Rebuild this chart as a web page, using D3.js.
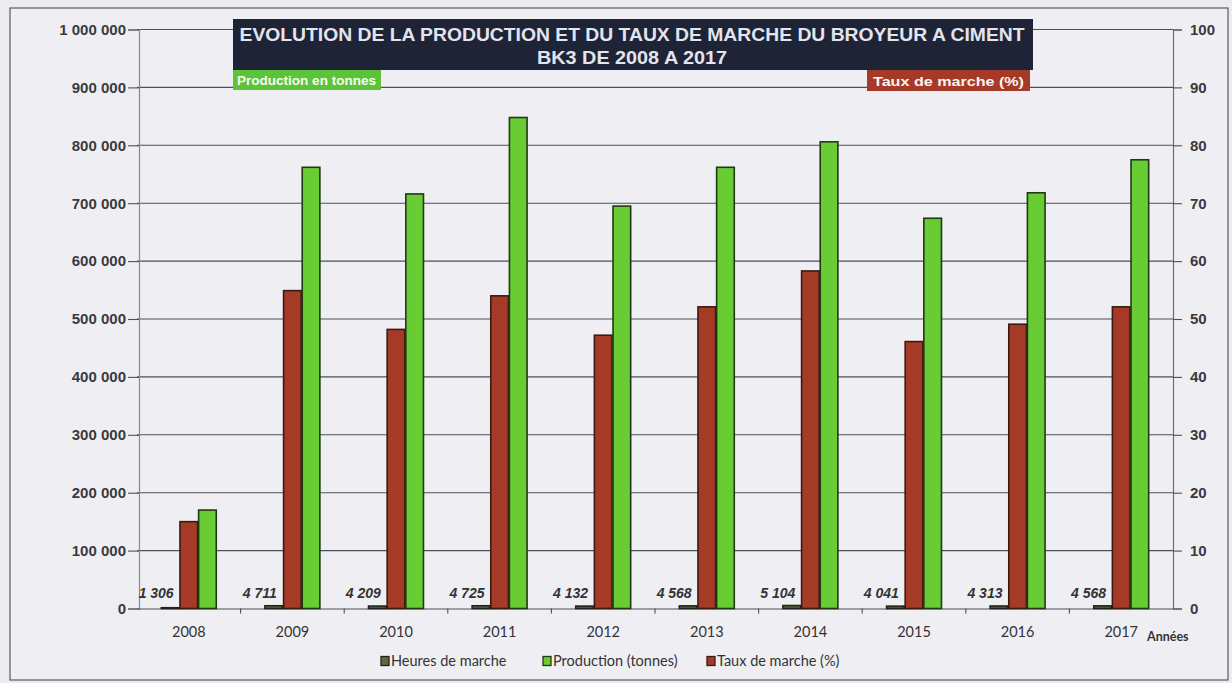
<!DOCTYPE html>
<html><head><meta charset="utf-8">
<script src="https://cdn.jsdelivr.net/npm/d3@7"></script>
<style>
html,body{margin:0;padding:0;background:#ececf0;}
svg{display:block;}
</style></head>
<body>
<svg id="chart" width="1232" height="683"></svg>
<script>
const years = ["2008","2009","2010","2011","2012","2013","2014","2015","2016","2017"];
const heures = [1306, 4711, 4209, 4725, 4132, 4568, 5104, 4041, 4313, 4568];
const production = [170000, 762000, 716000, 848000, 695000, 762000, 806000, 674000, 718000, 775000];
const taux = [15.0, 54.9, 48.2, 54.0, 47.2, 52.1, 58.3, 46.1, 49.1, 52.1];
const leftTicks = [0,100000,200000,300000,400000,500000,600000,700000,800000,900000,1000000];
const rightTicks = [0,10,20,30,40,50,60,70,80,90,100];
const seriesKeys = ["heures","taux","production"];
const legendLabels = ["Heures de marche","Production (tonnes)","Taux de marche (%)"];
const titleLines = ["EVOLUTION DE LA PRODUCTION ET DU TAUX DE MARCHE DU BROYEUR A CIMENT","BK3 DE 2008 A 2017"];

const svg = d3.select("#chart");
const L = 137, R = 1173, T = 29.5, B = 608.5;

const fills = {heures:"#5e6b3e", taux:"#a53a27", production:"#6acc35"};
const strokes = {heures:"#1e231a", taux:"#3b1a12", production:"#1f3a12"};

// frame
svg.append("rect").attr("x",10).attr("y",8).attr("width",1218).attr("height",672)
  .attr("fill","#efeff3").attr("stroke","#5a5a60").attr("stroke-width",1.2);

const x = d3.scaleBand().domain(years).range([L,R]).padding(0);
const bw = x.bandwidth();
const xs = d3.scaleBand().domain(seriesKeys).range([bw*0.23, bw*0.77]).padding(0);
const yL = d3.scaleLinear().domain([0,1000000]).range([B,T]);
const yR = d3.scaleLinear().domain([0,100]).range([B,T]);
const fmt = v => d3.format(",")(v).replace(/,/g," ");

// gridlines
svg.append("g").selectAll("line").data(leftTicks.slice(1)).join("line")
  .attr("x1",L).attr("x2",R).attr("y1",d=>yL(d)).attr("y2",d=>yL(d))
  .attr("stroke","#4c4f5c").attr("stroke-width",1.1);

// left axis
const gL = svg.append("g").attr("transform",`translate(${L+2},0)`)
  .call(d3.axisLeft(yL).tickValues(leftTicks).tickFormat(fmt).tickSize(11).tickPadding(2));
gL.select(".domain").attr("stroke","#7f8a9a").attr("stroke-width",1.2);
gL.selectAll(".tick line").attr("stroke","#4c4f5c").attr("stroke-width",1.1);
gL.selectAll(".tick text").attr("font-family","Liberation Sans, Arial, sans-serif")
  .attr("font-weight","bold").attr("font-size",15).attr("fill","#3a3a3e");

// right axis
const gR = svg.append("g").attr("transform",`translate(${R},0)`)
  .call(d3.axisRight(yR).tickValues(rightTicks).tickSize(9).tickPadding(8));
gR.select(".domain").attr("stroke","#6a6e7a").attr("stroke-width",1.2);
gR.selectAll(".tick line").attr("stroke","#4c4f5c").attr("stroke-width",1.1);
gR.selectAll(".tick text").attr("font-family","Liberation Sans, Arial, sans-serif")
  .attr("font-weight","bold").attr("font-size",15).attr("fill","#3a3a3e");

// x axis
const gX = svg.append("g").attr("transform",`translate(0,${B})`)
  .call(d3.axisBottom(x).tickSize(0).tickPadding(18));
gX.select(".domain").attr("stroke","#4c4f5c").attr("stroke-width",1.2);
gX.selectAll(".tick text").attr("font-family","Lato, Open Sans, sans-serif")
  .attr("font-size",14.5).attr("fill","#333");
svg.append("g").selectAll("line").data(years.slice(1)).join("line")
  .attr("x1",d=>x(d)).attr("x2",d=>x(d)).attr("y1",B).attr("y2",B+5)
  .attr("stroke","#4c4f5c").attr("stroke-width",1.1);

svg.append("text").attr("x",1147).attr("y",641).text("Années")
  .attr("font-family","Lato, sans-serif").attr("font-weight","bold").attr("font-size",12.5).attr("fill","#333");

// bars
const rows = years.map((y,i)=>({year:y, heures:heures[i], taux:taux[i], production:production[i]}));
const groups = svg.append("g").selectAll("g").data(rows).join("g")
  .attr("transform",d=>`translate(${x(d.year)},0)`);
groups.selectAll("rect").data(d=>seriesKeys.map(k=>({k, v:d[k]}))).join("rect")
  .attr("x",d=>xs(d.k)+0.5).attr("width",xs.bandwidth()-1)
  .attr("y",d=> d.k==="taux" ? yR(d.v) : yL(d.v))
  .attr("height",d=> B - (d.k==="taux" ? yR(d.v) : yL(d.v)))
  .attr("fill",d=>fills[d.k]).attr("stroke",d=>strokes[d.k]).attr("stroke-width",1.6);

// hours labels
svg.append("g").selectAll("text").data(rows).join("text")
  .attr("x",d=>x(d.year)+xs("heures")+xs.bandwidth()/2-14)
  .attr("y",598).attr("text-anchor","middle")
  .text(d=>fmt(d.heures))
  .attr("font-family","Liberation Sans, Arial, sans-serif").attr("font-style","italic")
  .attr("font-weight","bold").attr("font-size",14).attr("fill","#333");

// title
svg.append("rect").attr("x",233).attr("y",19).attr("width",800).attr("height",51).attr("fill","#1f2336");
svg.append("text").attr("x",632).attr("y",41).attr("text-anchor","middle")
  .attr("textLength",785).attr("lengthAdjust","spacingAndGlyphs")
  .text(titleLines[0]).attr("font-family","Liberation Sans Narrow, Liberation Sans, Arial, sans-serif")
  .attr("font-weight","bold").attr("font-size",18).attr("fill","#e2e4ee");
svg.append("text").attr("x",632).attr("y",64).attr("text-anchor","middle")
  .attr("textLength",190).attr("lengthAdjust","spacingAndGlyphs")
  .text(titleLines[1]).attr("font-family","Liberation Sans Narrow, Liberation Sans, Arial, sans-serif")
  .attr("font-weight","bold").attr("font-size",18).attr("fill","#e2e4ee");

// axis header boxes
svg.append("rect").attr("x",233).attr("y",70).attr("width",148).attr("height",20).attr("fill","#5cc43a");
svg.append("text").attr("x",237).attr("y",85).text("Production en tonnes")
  .attr("textLength",139).attr("lengthAdjust","spacingAndGlyphs")
  .attr("font-family","Liberation Sans, Arial, sans-serif").attr("font-weight","bold").attr("font-size",13).attr("fill","#f4fff0");
svg.append("rect").attr("x",867).attr("y",70).attr("width",163).attr("height",21).attr("fill","#a63a28");
svg.append("text").attr("x",873).attr("y",86).text("Taux de marche (%)")
  .attr("textLength",151).attr("lengthAdjust","spacingAndGlyphs")
  .attr("font-family","Liberation Sans, Arial, sans-serif").attr("font-weight","bold").attr("font-size",13).attr("fill","#fff4f0");

// legend
const legendX = [381, 543, 707];
const legendKeys = ["heures","production","taux"];
const lg = svg.append("g").selectAll("g").data(legendLabels).join("g")
  .attr("transform",(d,i)=>`translate(${legendX[i]},661)`);
lg.append("rect").attr("x",0).attr("y",-4.5).attr("width",8).attr("height",9)
  .attr("fill",(d,i)=>fills[legendKeys[i]]).attr("stroke",(d,i)=>strokes[legendKeys[i]]).attr("stroke-width",1.3);
lg.append("text").attr("x",10).attr("y",5).text(d=>d)
  .attr("font-family","Lato, Open Sans, sans-serif").attr("font-size",14.5).attr("fill","#333");
</script>
</body></html>
